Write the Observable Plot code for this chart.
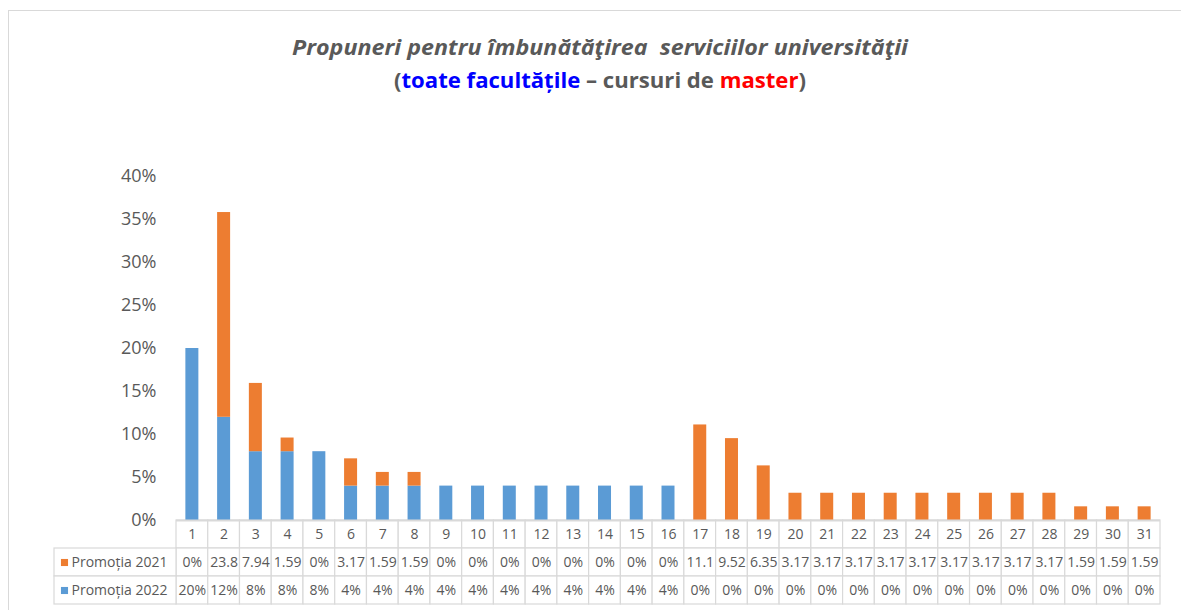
<!DOCTYPE html>
<html>
<head>
<meta charset="utf-8">
<script src="https://cdn.jsdelivr.net/npm/d3@7"></script>
<script src="https://cdn.jsdelivr.net/npm/@observablehq/plot@0.6"></script>
<style>
  body { margin: 0; background: #fff; }
  #wrap { position: relative; width: 1181px; height: 610px; overflow: hidden; font-family: "Open Sans", sans-serif; background: #fff; }
  #frame { position: absolute; left: 8px; top: 10px; width: 1200px; height: 700px; border: 1px solid #d9d9d9; box-sizing: border-box; }
  #title { position: absolute; left: 0; top: 0; }
  #chart { position: absolute; left: 0; top: 150px; }
</style>
</head>
<body>
<div id="wrap">
  <div id="frame"></div>
  <svg id="title" width="1181" height="110">
    <text x="600" y="55" text-anchor="middle" textLength="616" lengthAdjust="spacingAndGlyphs"
      font-family="Open Sans" font-weight="700" font-style="italic" font-size="21" fill="#595959"
      style="white-space:pre">Propuneri pentru îmbunătăţirea  serviciilor universităţii</text>
    <text x="600" y="88" text-anchor="middle" textLength="412" lengthAdjust="spacingAndGlyphs"
      font-family="Open Sans" font-weight="700" font-size="21" fill="#595959"
      style="white-space:pre">(<tspan fill="#0000FF">toate facultățile</tspan> – cursuri de <tspan fill="#FF0000">master</tspan>)</text>
  </svg>
  <div id="chart"></div>
</div>
<script>
// ---- data ----
const categories = [1,2,3,4,5,6,7,8,9,10,11,12,13,14,15,16,17,18,19,20,21,22,23,24,25,26,27,28,29,30,31];
const promotia2021 = [0,23.81,7.94,1.59,0,3.17,1.59,1.59,0,0,0,0,0,0,0,0,11.11,9.52,6.35,3.17,3.17,3.17,3.17,3.17,3.17,3.17,3.17,3.17,1.59,1.59,1.59];
const promotia2022 = [20,12,8,8,8,4,4,4,4,4,4,4,4,4,4,4,0,0,0,0,0,0,0,0,0,0,0,0,0,0,0];
const seriesNames = ["Promoția 2021", "Promoția 2022"];
const seriesColors = ["#ED7D31", "#5B9BD5"];
const yTicks = [0,5,10,15,20,25,30,35,40];

// ---- layout (pixels) ----
const W = 1181, H = 460;
const plotLeft = 176, plotRight = 1160;
const y0px = 370, y40px = 26;
const rowH = 28;
const legendLeft = 54;
const colW = (plotRight - plotLeft) / categories.length;
const pxPerUnit = (y0px - y40px) / 40;
const toY = px => (y0px - px) / pxPerUnit;
const legendX1 = 1 - (plotLeft - legendLeft) / colW;

// bar data: 2022 first so it sits at the bottom of the stack
const bars = [];
categories.forEach((c, i) => bars.push({cat: c, series: seriesNames[1], value: promotia2022[i]}));
categories.forEach((c, i) => bars.push({cat: c, series: seriesNames[0], value: promotia2021[i]}));

// table rows
const rowTop = r => toY(y0px + r * rowH);
const rowBottom = r => toY(y0px + (r + 1) * rowH);
const rowMid = r => toY(y0px + (r + 0.5) * rowH);

const fmt = v => (v + "%").slice(0, 4);
const tableRows = [
  {row: 1, name: seriesNames[0], color: seriesColors[0], values: promotia2021},
  {row: 2, name: seriesNames[1], color: seriesColors[1], values: promotia2022}
];

const cells = [];
for (let r = 0; r < 3; r++) {
  categories.forEach(c => cells.push({x1: c, x2: c + 1, y1: rowBottom(r), y2: rowTop(r)}));
}
tableRows.forEach(t => cells.push({x1: legendX1, x2: 1, y1: rowBottom(t.row), y2: rowTop(t.row)}));

const catLabels = categories.map(c => ({x: c + 0.5, y: rowMid(0), text: String(c)}));
const valueLabels = [];
tableRows.forEach(t => t.values.forEach((v, i) => valueLabels.push({x: categories[i] + 0.5, y: rowMid(t.row), text: fmt(v)})));
const legendItems = tableRows.map(t => ({x: legendX1, y: rowMid(t.row), name: t.name, color: t.color}));

const chart = Plot.plot({
  width: W,
  height: H,
  marginLeft: plotLeft,
  marginRight: W - plotRight,
  marginTop: 0,
  marginBottom: 0,
  style: {fontFamily: "Open Sans, sans-serif", color: "#595959", background: "transparent", overflow: "visible"},
  x: {domain: [1, categories.length + 1], range: [plotLeft, plotRight], axis: null},
  y: {domain: [0, 40], range: [y0px, y40px], axis: null},
  color: {domain: seriesNames, range: seriesColors},
  marks: [
    Plot.rect(cells, {x1: "x1", x2: "x2", y1: "y1", y2: "y2", fill: "white", stroke: "#d9d9d9", strokeWidth: 1.2}),
    Plot.rectY(bars, {x: "cat", interval: 1, y: "value", fill: "series", insetLeft: (colW - 13) / 2, insetRight: (colW - 13) / 2}),
    Plot.ruleY([0], {x1: 1, x2: categories.length + 1, stroke: "#d9d9d9", strokeWidth: 2}),
    Plot.axisY({ticks: yTicks, tickFormat: d => d + "%", tickSize: 0, tickPadding: 20, fontSize: 18, label: null, anchor: "left"}),
    Plot.text(catLabels, {x: "x", y: "y", text: "text", fontSize: 14, fill: "#595959"}),
    Plot.text(valueLabels, {x: "x", y: "y", text: "text", fontSize: 14, fill: "#595959"}),
    Plot.dot(legendItems, {x: "x", y: "y", dx: 10, symbol: "square", r: 4, fill: "color", stroke: null}),
    Plot.text(legendItems, {x: "x", y: "y", dx: 17, text: "name", textAnchor: "start", fontSize: 14, fill: "#595959"})
  ]
});
document.getElementById("chart").appendChild(chart);
</script>
</body>
</html>
